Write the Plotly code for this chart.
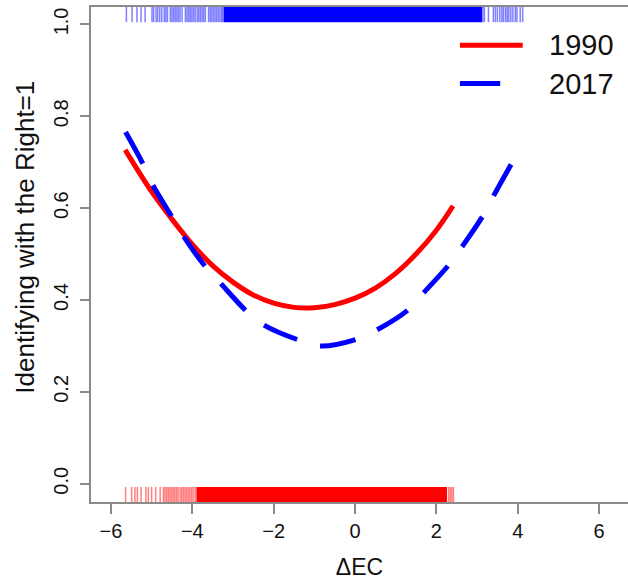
import plotly.graph_objects as go

# ---- data ----
red_x = [-5.65, -5.0, -4.5, -4.0, -3.5, -3.0, -2.5, -2.0, -1.5, -1.0, -0.5, 0.0, 0.5, 1.0, 1.5, 2.0, 2.41]
red_y = [0.727, 0.636, 0.576, 0.521, 0.475, 0.439, 0.411, 0.393, 0.384, 0.383, 0.390, 0.404, 0.426, 0.458, 0.500, 0.552, 0.605]

blue_x = [-5.64, -5.21, -4.97, -4.50, -4.21, -3.68, -3.31, -2.66, -2.25, -1.39, -0.86, 0.05, 0.54, 1.31, 1.68, 2.30, 2.63, 3.14, 3.40, 3.86]
blue_y = [0.766, 0.696, 0.650, 0.581, 0.538, 0.473, 0.437, 0.375, 0.346, 0.313, 0.300, 0.315, 0.335, 0.379, 0.415, 0.476, 0.516, 0.583, 0.626, 0.699]

# rug (2017 at top, 1990 at bottom): sparse ticks + dense band
rug_2017_sparse = [-5.62, -5.48, -5.36, -5.26, -5.16, -4.99, -4.95, -4.89, -4.85, -4.80, -4.75, -4.69,
                   -4.65, -4.61, -4.54, -4.50, -4.46, -4.42, -4.38, -4.34, -4.30, -4.25, -4.17, -4.13,
                   -4.09, -4.05, -4.01, -3.97, -3.93, -3.88, -3.84, -3.80, -3.76, -3.72, -3.68, -3.60,
                   -3.56, -3.52, -3.48, -3.44, -3.40, -3.36, -3.32, -3.28, -3.25,
                   3.14, 3.18, 3.28, 3.40, 3.45, 3.50, 3.56, 3.61, 3.65, 3.70, 3.74, 3.78, 3.83,
                   3.88, 3.94, 3.98, 4.06, 4.12]
rug_2017_dense = (-3.23, 3.12)
rug_1990_sparse = [-5.64, -5.49, -5.41, -5.35, -5.26, -5.14, -5.08, -5.00, -4.90, -4.79, -4.71, -4.67,
                   -4.63, -4.59, -4.55, -4.51, -4.47, -4.43, -4.39, -4.35, -4.30, -4.26, -4.22, -4.18,
                   -4.14, -4.10, -4.06, -4.02, -3.98, -3.93, 2.30, 2.34, 2.38, 2.42]
rug_1990_dense = (-3.90, 2.26)

x_ticks = [-6, -4, -2, 0, 2, 4, 6]
y_ticks = [0.0, 0.2, 0.4, 0.6, 0.8, 1.0]
y_ticktext = ["0.0", "0.2", "0.4", "0.6", "0.8", "1.0"]
legend_labels = ["1990", "2017"]
x_title = "ΔEC"
y_title = "Identifying with the Right=1"

RED = "#ff0000"
BLUE = "#0000ff"
AXIS = "#8a8a8a"
FONT = "Liberation Sans, Arial, sans-serif"

top_rug = (1.005, 1.038)
bot_rug = (-0.0398, -0.007)


def rug_xy(vals, y0, y1):
    xs, ys = [], []
    for v in vals:
        xs += [v, v, None]
        ys += [y0, y1, None]
    return xs, ys


fig = go.Figure()

rx, ry = rug_xy(rug_2017_sparse, *top_rug)
fig.add_trace(go.Scatter(x=rx, y=ry, mode="lines", line=dict(color="rgba(0,0,255,0.5)", width=1.5),
                         hoverinfo="skip", showlegend=False))
rx, ry = rug_xy(rug_1990_sparse, *bot_rug)
fig.add_trace(go.Scatter(x=rx, y=ry, mode="lines", line=dict(color="rgba(255,0,0,0.5)", width=1.5),
                         hoverinfo="skip", showlegend=False))

fig.add_shape(type="rect", xref="x", yref="y", x0=rug_2017_dense[0], x1=rug_2017_dense[1],
              y0=top_rug[0], y1=top_rug[1], fillcolor=BLUE, line=dict(width=0))
fig.add_shape(type="rect", xref="x", yref="y", x0=rug_1990_dense[0], x1=rug_1990_dense[1],
              y0=bot_rug[0], y1=bot_rug[1], fillcolor=RED, line=dict(width=0))

fig.add_trace(go.Scatter(x=red_x, y=red_y, mode="lines", name=legend_labels[0],
                         line=dict(color=RED, width=5, shape="spline"), showlegend=False))
fig.add_trace(go.Scatter(x=blue_x, y=blue_y, mode="lines", name=legend_labels[1],
                         line=dict(color=BLUE, width=5, shape="spline", dash="36px,24px"), showlegend=False))

# legend (drawn manually to match the reference layout)
fig.add_shape(type="line", xref="paper", yref="paper", x0=0.687, x1=0.804, y0=0.9227, y1=0.9227,
              line=dict(color=RED, width=5))
fig.add_shape(type="line", xref="paper", yref="paper", x0=0.687, x1=0.762, y0=0.8454, y1=0.8454,
              line=dict(color=BLUE, width=5))
fig.add_annotation(x=0.849, y=0.9227, xref="paper", yref="paper", text=legend_labels[0],
                   showarrow=False, xanchor="left", yanchor="middle",
                   font=dict(family=FONT, size=29, color="#111"))
fig.add_annotation(x=0.849, y=0.8454, xref="paper", yref="paper", text=legend_labels[1],
                   showarrow=False, xanchor="left", yanchor="middle",
                   font=dict(family=FONT, size=29, color="#111"))

# y-axis title placed as in the reference
fig.add_annotation(x=-0.122, y=0.535, xref="paper", yref="paper", text=y_title, textangle=-90,
                   showarrow=False, xanchor="center", yanchor="middle",
                   font=dict(family=FONT, size=26, color="#111"))

fig.update_layout(
    width=628, height=580,
    margin=dict(l=91, r=0, t=7, b=78),
    paper_bgcolor="white", plot_bgcolor="white",
    font=dict(family=FONT, size=20, color="#111"),
    xaxis=dict(range=[-6.49, 6.71], tickvals=x_ticks, showgrid=False, zeroline=False, automargin=False,
               showline=True, linecolor=AXIS, linewidth=1.5, mirror=True,
               ticks="outside", ticklen=10, tickcolor=AXIS, tickwidth=1.5,
               title=dict(text=x_title, font=dict(size=23), standoff=20)),
    yaxis=dict(range=[-0.0398, 1.038], tickvals=y_ticks, ticktext=y_ticktext, tickangle=-90,
               automargin=False, ticklabelstandoff=4,
               showgrid=False, zeroline=False, showline=True, linecolor=AXIS, linewidth=1.5,
               ticks="outside", ticklen=9, tickcolor=AXIS, tickwidth=1.5),
)

fig.write_html("out.html", config={"displayModeBar": False},
               post_script="document.body.style.margin='0px';document.body.style.overflow='hidden';")
